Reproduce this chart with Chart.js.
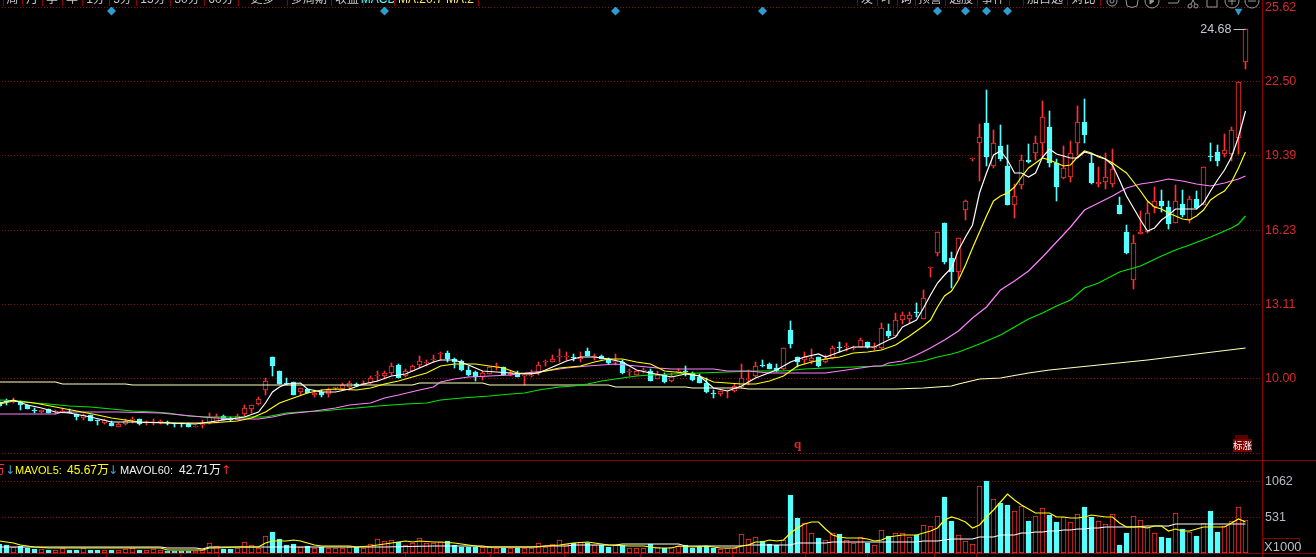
<!DOCTYPE html>
<html>
<head>
<meta charset="utf-8">
<script src="https://cdn.jsdelivr.net/npm/chart.js@4/dist/chart.umd.min.js"></script>
<style>
  html, body { margin: 0; padding: 0; background: #000; overflow: hidden; }
  #page { position: relative; width: 1316px; height: 557px; overflow: hidden; background: #000; font-family: "Liberation Sans", "Noto Sans CJK SC", sans-serif; }
  canvas { position: absolute; left: -7px; }
  .abs { position: absolute; white-space: nowrap; }
  .rule { position: absolute; background: #8b0000; }
  #toolbar { position: absolute; left: 0; top: 0; width: 1104px; height: 6px; overflow: hidden; }
  #toolbar span { position: absolute; top: -7px; font-size: 12px; line-height: 12px; color: #c8c8c8; transform: translateX(-50%); white-space: nowrap; }
  #legend span { position: absolute; top: 463px; font-size: 12px; line-height: 14px; white-space: nowrap; }
  #legend .name { font-size: 11px; }
  #legend .arrow { font-family: "DejaVu Sans"; font-size: 12px; }
</style>
</head>
<body>
<div id="page">
  <canvas id="priceChart" width="1323" height="461" style="top:0"></canvas>
  <canvas id="volumeChart" width="1323" height="92" style="top:461px"></canvas>
  <div id="toolbar"></div>
  <svg class="abs" style="left:1104px;top:0" width="158" height="10" fill="none" stroke="#9a9a9a" stroke-width="1">
    <circle cx="8" cy="1" r="5"/><circle cx="8" cy="1" r="2"/>
    <path d="M22 0 L23 6 Q28 9 33 6 L34 0"/>
    <circle cx="48" cy="1" r="7"/><path d="M46 0 L46 4 L50 1 Z" fill="#9a9a9a"/>
    <path d="M64 3 L73 3 Q75 3 75 0"/>
    <circle cx="86" cy="6" r="2"/><circle cx="92" cy="6" r="2"/><path d="M87 4 L89 0 M91 4 L89 0"/>
    <path d="M103 0 L103 7 L113 7 L113 0"/>
    <circle cx="128" cy="1" r="7"/><path d="M124 1 L132 1 M128 0 L128 5"/>
    <circle cx="148" cy="1" r="7"/><path d="M144 1 L152 1"/>
  </svg>
  <div id="legend">
    <span style="left:-7px;color:#ff3232">万</span>
    <span class="arrow" style="left:5px;color:#3aa6d8">↓</span>
    <span class="name" style="left:15px;color:#ffff0b">MAVOL5:</span>
    <span style="left:67px;color:#ffff0b">45.67万</span>
    <span class="arrow" style="left:108px;color:#3aa6d8">↓</span>
    <span class="name" style="left:120px;color:#f0f0f0">MAVOL60:</span>
    <span style="left:179px;color:#f0f0f0">42.71万</span>
    <span class="arrow" style="left:221px;color:#ff3232">↑</span>
  </div>
  <div class="rule" style="left:0;top:460px;width:1316px;height:1px"></div>
  <div class="rule" style="left:0;top:553px;width:1316px;height:1px"></div>
  <div class="rule" style="left:1262px;top:0;width:1px;height:557px"></div>
  <div class="abs" style="left:1263px;top:538px;width:35px;height:14px;border:1px solid #8b0000;color:#b8bcc4;font-size:13px;line-height:15px;text-align:center">X1000</div>
  <div class="abs" style="left:1235px;top:435px;width:13px;height:4px;background:#5a0000"></div>
  <div class="abs" style="left:1233px;top:439px;width:19px;height:13px;background:#7a0000;color:#fff;font:9.5px/13px 'Noto Sans CJK SC';text-align:center">标涨</div>
</div>
<script>
const opens = [8.99,9.02,9.00,8.99,8.85,8.64,8.58,8.67,8.55,8.57,
  8.57,8.48,8.29,8.43,8.20,8.09,8.12,7.95,8.06,8.22,
  8.26,8.10,8.10,8.12,8.15,8.09,8.09,8.06,7.95,8.01,
  8.09,8.12,8.40,8.29,8.23,8.48,8.69,8.90,9.47,10.88,
  10.28,9.80,9.82,9.42,9.52,9.26,9.41,9.31,9.56,9.55,
  9.63,9.76,9.70,9.77,10.07,10.08,10.21,10.55,10.08,10.31,
  10.55,10.63,10.77,11.02,11.05,10.80,10.72,10.34,10.25,10.03,
  10.17,10.46,10.45,10.11,10.20,10.06,10.06,10.20,10.66,10.69,
  10.88,10.88,10.87,10.79,11.14,10.87,10.91,10.81,10.65,10.65,
  10.24,10.14,10.28,10.29,9.97,10.11,9.85,10.25,10.28,10.20,
  10.03,9.79,9.34,9.34,9.46,9.44,9.61,9.93,10.06,10.50,
  10.58,10.41,10.37,12.02,10.88,10.76,10.73,10.87,10.66,10.83,
  11.29,11.30,11.26,11.31,11.50,11.28,11.25,11.98,11.78,12.44,
  12.49,12.78,12.50,14.64,15.24,16.51,15.04,14.48,17.06,19.22,
  19.91,20.74,18.93,19.77,18.93,17.30,18.14,19.18,19.49,19.91,
  20.57,19.04,18.40,18.44,19.88,20.78,19.06,18.16,18.24,18.16,
  17.29,16.15,14.11,16.08,16.16,17.19,17.46,17.19,16.54,17.31,
  16.64,17.53,17.29,19.35,19.52,19.41,19.43,20.09,23.30];
const closes = [8.82,8.99,9.03,8.85,8.71,8.61,8.65,8.54,8.61,8.60,
  8.54,8.36,8.43,8.20,8.17,8.23,7.98,8.06,8.19,8.25,
  8.06,8.13,8.13,8.17,8.09,8.06,8.06,7.95,7.98,8.03,
  8.34,8.34,8.23,8.23,8.41,8.74,8.85,9.11,9.86,10.50,
  9.75,9.75,9.28,9.56,9.37,9.38,9.27,9.48,9.59,9.68,
  9.77,9.66,9.80,9.99,10.10,10.21,10.50,10.01,10.27,10.50,
  10.70,10.66,10.80,11.05,10.79,10.67,10.34,10.11,10.03,10.20,
  10.45,10.49,10.13,10.20,10.04,10.08,10.14,10.53,10.69,10.79,
  10.91,10.91,10.84,10.90,10.93,10.90,10.81,10.62,10.73,10.20,
  10.27,10.28,10.31,9.87,10.13,9.83,10.06,10.28,10.25,9.92,
  9.79,9.41,9.31,9.44,9.49,9.65,9.99,9.96,10.50,10.48,
  10.39,10.27,11.25,11.43,10.67,10.87,10.84,10.48,10.81,11.25,
  11.26,11.33,11.29,11.59,11.29,11.31,12.09,11.77,12.43,12.65,
  12.65,12.75,13.36,14.66,16.14,14.86,14.48,15.88,17.47,19.25,
  20.14,19.31,19.88,19.22,17.30,17.65,19.17,19.10,19.88,20.98,
  19.07,18.06,18.83,19.46,20.77,20.21,18.19,18.23,18.44,18.80,
  16.92,15.24,15.67,16.15,16.93,17.44,17.26,16.50,17.44,16.86,
  17.55,17.15,18.87,19.32,19.14,19.58,20.45,22.45,24.68];
const highs = [9.04,9.10,9.14,9.02,8.87,8.74,8.66,8.70,8.65,8.72,
  8.68,8.50,8.48,8.45,8.23,8.25,8.17,8.08,8.26,8.34,
  8.28,8.19,8.26,8.23,8.17,8.12,8.12,8.08,7.99,8.23,
  8.51,8.48,8.42,8.34,8.48,8.85,8.87,9.19,10.00,10.90,
  10.30,10.00,9.84,9.58,9.54,9.47,9.49,9.56,9.63,9.77,
  9.86,9.80,9.86,10.08,10.27,10.27,10.62,10.59,10.36,10.56,
  10.93,10.76,10.97,11.11,11.15,10.83,10.74,10.48,10.27,10.31,
  10.47,10.62,10.47,10.28,10.27,10.10,10.34,10.69,10.76,10.97,
  11.22,11.08,11.01,11.11,11.28,11.01,10.97,10.84,11.01,10.76,
  10.37,10.31,10.41,10.37,10.27,10.20,10.20,10.39,10.50,10.24,
  10.15,9.99,9.49,9.46,9.50,9.75,10.58,10.34,10.67,10.76,
  10.62,10.58,11.27,12.40,10.90,11.08,11.21,10.89,10.95,11.35,
  11.50,11.46,11.36,11.69,11.53,11.46,12.30,12.26,12.74,12.77,
  12.77,13.16,13.70,14.68,16.16,16.53,15.29,15.90,17.49,19.27,
  20.70,22.13,20.45,20.64,19.81,18.16,19.39,19.86,20.17,21.65,
  21.25,19.21,19.77,19.97,21.46,21.75,19.44,18.90,19.46,19.63,
  17.61,16.44,16.01,17.01,17.41,18.03,17.92,17.43,18.13,17.92,
  17.64,17.88,18.89,19.88,19.79,20.28,20.57,22.47,24.70];
const lows = [8.79,8.86,8.96,8.65,8.69,8.53,8.54,8.52,8.48,8.54,
  8.52,8.23,8.23,8.18,8.02,8.07,7.96,7.93,8.01,8.12,
  8.02,8.02,8.01,8.06,8.03,7.95,7.95,7.93,7.93,7.91,
  8.06,8.09,8.21,8.20,8.21,8.40,8.54,8.86,9.26,10.10,
  9.73,9.70,9.26,9.30,9.35,9.19,9.21,9.19,9.47,9.49,
  9.49,9.64,9.68,9.75,9.89,9.94,10.13,9.99,10.03,10.27,
  10.41,10.50,10.69,10.76,10.65,10.41,10.27,10.08,9.89,9.92,
  10.15,10.34,10.11,10.06,10.02,9.70,10.03,10.13,10.52,10.67,
  10.69,10.76,10.73,10.69,10.91,10.76,10.79,10.59,10.55,10.17,
  10.08,10.11,10.20,9.85,9.95,9.79,9.83,10.20,10.06,9.87,
  9.77,9.35,9.17,9.24,9.17,9.42,9.56,9.70,10.03,10.46,
  10.36,10.25,10.35,11.26,10.45,10.58,10.58,10.46,10.62,10.81,
  11.11,11.14,11.18,11.29,11.27,11.18,11.21,11.67,11.76,12.27,
  12.30,12.55,12.48,14.23,15.15,14.80,13.80,14.17,16.65,19.15,
  18.31,18.93,18.83,19.15,17.28,16.75,17.96,19.04,19.18,19.25,
  18.89,17.47,18.38,18.27,19.39,19.91,18.17,18.02,17.96,18.06,
  16.90,15.22,13.73,16.06,16.09,16.93,16.98,16.27,16.51,16.79,
  16.51,17.13,17.27,19.15,18.94,19.29,19.15,19.43,22.99];
const volumes = [133,113,93,103,74,59,54,44,44,69,
  49,49,69,44,49,44,44,44,54,69,
  49,44,54,49,34,34,34,34,34,44,
  143,98,59,59,74,157,113,79,246,310,
  207,118,133,93,103,69,93,79,79,79,
  93,84,79,128,202,172,187,167,113,148,
  216,143,143,157,172,118,93,93,93,84,
  84,79,79,79,79,79,79,143,93,128,
  187,133,143,157,152,118,113,88,113,118,
  69,74,74,133,84,79,84,103,113,79,
  93,103,79,59,69,69,275,202,231,177,
  133,123,192,856,516,438,290,221,187,290,
  280,187,143,231,152,113,339,251,290,290,
  231,261,408,393,541,826,472,261,172,128,
  983,1062,792,733,708,615,688,472,541,659,
  561,457,526,452,570,679,531,467,423,570,
  118,295,541,482,388,290,236,221,585,349,
  305,251,438,620,310,393,477,674,482];

// moving averages at the listed days
const ma5Days = [0,2,4,6,8,10,13,16,19,24,28,30,32,35,37,38,39,40,41,43,44,46,48,50,52,54,56,58,60,62,
  63,65,67,69,71,73,75,77,79,81,83,85,87,89,91,93,96,98,100,102,104,106,108,111,113,115,117,118,120,122,125,127,128,129,131,
  132,133,134,135,136,137,138,139,140,141,142,143,144,145,146,147,148,149,150,151,152,153,154,155,156,157,158,159,160,161,162,163,164,165,166,167,168,170,171,172,173,174,175,176,177,178];
const ma5 = [8.93,9.06,8.86,8.72,8.58,8.51,8.34,8.16,8.13,8.09,8.06,8.13,8.23,8.37,8.58,8.93,9.42,9.63,9.75,9.77,9.52,9.40,9.42,9.52,9.73,9.85,10.08,10.15,10.41,10.65,
  10.76,10.76,10.55,10.27,10.24,10.20,10.17,10.22,10.45,10.73,10.87,10.87,10.80,10.69,10.34,10.20,10.03,10.17,10.06,9.56,9.45,9.66,9.99,10.34,10.69,10.87,11.00,10.87,11.11,11.29,11.29,11.60,11.74,12.13,12.44,
  12.93,13.50,13.99,14.34,14.62,15.39,15.95,16.44,17.78,18.62,19.39,19.56,19.18,18.65,18.62,18.48,18.62,19.30,19.63,19.44,19.35,19.27,19.25,19.53,19.44,19.35,19.21,18.97,18.34,17.64,17.15,16.66,16.20,16.30,16.66,16.86,17.10,17.10,17.10,17.38,17.85,18.34,18.76,19.32,20.16,21.22];
const ma10Days = [0,2,5,8,11,14,16,18,20,25,30,32,34,36,38,40,42,44,46,48,51,53,55,57,59,61,
  63,65,68,70,72,74,76,78,80,83,85,87,89,91,93,95,98,100,102,104,106,108,110,112,114,116,118,120,122,124,126,128,130,132,
  133,134,135,136,137,138,139,140,141,142,143,144,145,146,147,148,149,150,151,152,153,154,155,156,157,158,159,160,161,162,163,164,165,166,167,168,169,170,171,172,173,174,175,176,177,178];
const ma10 = [8.90,9.04,8.96,8.79,8.62,8.44,8.33,8.23,8.13,8.09,8.09,8.13,8.19,8.30,8.58,8.93,9.14,9.35,9.47,9.54,9.49,9.56,9.75,9.89,10.03,10.20,
  10.50,10.58,10.58,10.50,10.41,10.22,10.17,10.27,10.41,10.50,10.69,10.80,10.79,10.66,10.58,10.29,10.20,10.06,9.83,9.78,9.73,9.73,9.87,10.06,10.48,10.65,10.79,10.90,11.04,11.07,11.18,11.39,11.78,12.19,
  12.44,13.00,13.43,13.64,14.13,14.76,15.46,16.16,16.80,17.43,17.67,17.78,18.06,18.48,18.83,19.07,19.24,19.18,19.04,18.93,18.97,19.30,19.55,19.49,19.32,19.21,19.04,18.83,18.62,18.27,17.85,17.43,17.19,17.10,16.96,16.80,16.68,16.66,16.82,17.08,17.50,17.71,17.85,18.27,18.83,19.53];
const ma20Days = [0,8,9,17,23,26,29,31,34,37,39,41,45,48,50,53,55,57,60,62,
  63,65,67,70,73,75,78,81,84,86,88,91,94,96,102,104,107,110,114,118,120,123,125,126,127,129,131,133,135,137,139,141,143,145,147,149,151,153,155,157,159,161,163,165,167,169,171,173,175,177,178];
const ma20 = [8.48,8.48,8.55,8.55,8.54,8.44,8.34,8.30,8.26,8.26,8.37,8.48,8.62,8.72,8.85,8.96,9.14,9.27,9.49,9.63,
  9.82,9.97,10.03,10.07,10.13,10.20,10.29,10.41,10.48,10.55,10.58,10.50,10.43,10.39,10.38,10.28,10.28,10.22,10.20,10.22,10.31,10.41,10.48,10.50,10.62,10.73,10.96,11.25,11.60,11.98,12.51,13.00,13.71,14.10,14.52,15.11,15.71,16.37,17.05,17.38,17.66,17.99,18.16,18.27,18.38,18.30,18.17,18.10,18.20,18.37,18.51];
const ma60Days = [0,3,5,7,10,13,16,19,22,24,27,30,34,38,41,43,46,49,51,54,58,61,
  63,66,68,70,73,75,77,80,82,84,86,88,91,93,96,100,104,108,112,115,118,122,126,128,130,132,134,136,137,140,143,145,
  147,149,151,153,155,157,160,163,166,168,170,173,176,177,178];
const ma60 = [9.07,9.03,8.96,8.90,8.83,8.76,8.68,8.62,8.55,8.51,8.40,8.36,8.34,8.37,8.51,8.55,8.62,8.69,8.75,8.81,8.88,8.93,
  9.05,9.14,9.19,9.24,9.31,9.38,9.48,9.61,9.66,9.76,9.89,9.97,10.08,10.14,10.18,10.21,10.24,10.27,10.29,10.36,10.41,10.45,10.48,10.55,10.63,10.73,10.90,10.99,11.11,11.43,11.81,12.15,
  12.47,12.72,13.03,13.29,13.78,13.99,14.44,14.72,15.14,15.39,15.60,15.92,16.30,16.49,16.80];
const ma250Days = [0,8,9,18,19,27,28,59,60,69,70,74,75,87,88,98,99,106,107,124,128,132,136,137,140,143,147,150,157,164,171,178];
const ma250 = [9.82,9.82,9.76,9.76,9.72,9.72,9.70,9.70,9.78,9.78,9.72,9.72,9.68,9.68,9.63,9.63,9.59,9.59,9.52,9.52,9.55,9.59,9.66,9.76,9.96,10.00,10.21,10.34,10.55,10.76,11.01,11.28];

const mavol5Days = [0,2,3,5,7,8,14,23,24,27,29,30,31,34,37,38,39,41,42,43,45,46,50,51,53,55,57,58,59,60,62,
  63,65,67,68,69,76,78,80,82,84,85,87,90,92,94,96,97,99,101,103,105,106,107,108,109,110,111,112,113,114,115,116,117,118,119,120,121,122,123,124,125,126,
  127,128,129,130,131,132,133,134,135,136,137,138,139,140,141,142,143,144,145,146,147,148,149,150,151,152,153,154,155,156,157,158,159,160,161,162,163,164,165,166,167,168,169,170,171,172,173,174,175,176,177,178];
const mavol5 = [172,152,118,89,79,69,79,79,44,39,44,74,74,93,93,143,177,182,197,177,118,98,98,89,103,128,162,172,157,177,157,
  157,143,123,103,89,89,103,123,143,157,143,123,103,103,79,79,98,84,98,79,69,103,123,167,167,197,177,192,300,364,428,452,457,349,266,241,226,216,226,202,182,192,
  236,251,270,266,270,300,325,374,487,526,506,457,364,413,536,634,757,865,782,703,644,595,595,585,536,536,521,511,536,556,541,536,536,438,379,388,388,369,398,398,325,349,329,329,349,388,388,379,388,438,497,457];
const mavol60Days = [0,14,15,23,24,28,29,30,55,62,63,69,70,77,78,81,82,88,89,97,98,106,107,113,114,118,119,126,128,131,132,134,136,139,140,142,143,145,146,147,148,149,150,151,152,153,154,155,156,157,158,160,161,162,164,167,168,178];
const mavol60 = [93,93,84,84,69,69,64,84,93,103,98,98,88,88,98,98,118,118,128,128,108,108,123,123,143,143,157,157,167,167,182,182,207,207,236,236,266,266,290,290,310,310,325,325,339,339,354,354,364,364,379,379,388,388,403,403,428,428];

const priceTicks = [25.62, 22.50, 19.39, 16.23, 13.11, 10.00, 6.84];
const volumeTicks = [1062, 531];
const markerDays = [16, 55, 88, 109, 134, 138, 141, 144];
const markerPrice = 25.46;
const flagDay = 177;
const lastLabel = '24.68';
const lowMark = 'q';
const lowMarkDay = 114;
const toolbarLeft = ['周','月','季','年','1分','5分','15分','30分','60分','更多','多周期','收益','MACD','MA:20.7 MA:2'];
const toolbarRight = ['发','叶','询','预警','选股','事件','','加自选','对比'];
const toolbarColors = { MACD: '#54ffff', 'MA:20.7 MA:2': '#ffe860' };

const RED = '#ff3232', CYAN = '#54ffff', GRID = '#8a0c0c';
const days = opens.map((_, i) => i);
const isUp = days.map(i => closes[i] >= opens[i]);
const pairs = (xs, ys) => xs.map((x, i) => ({ x, y: ys[i] }));

// toolbar labels are cut off by the window top, same as the screenshot
const leftEdges = [3,22,42,62,82,109,136,170,204,238,287,331,363,394,478];
const rightEdges = [857,877,897,915,945,977,1009,1023,1067,1100];
const toolbar = document.getElementById('toolbar');
const page = document.getElementById('page');
function fillToolbar(edges, labels) {
  edges.forEach((x, i) => {
    const sep = document.createElement('div');
    sep.className = 'rule';
    sep.style.cssText = `left:${x}px;top:0;width:1px;height:6px`;
    toolbar.appendChild(sep);
    if (labels[i]) {
      const t = document.createElement('span');
      t.textContent = labels[i];
      t.style.left = (x + edges[i + 1]) / 2 + 'px';
      if (toolbarColors[labels[i]]) t.style.color = toolbarColors[labels[i]];
      toolbar.appendChild(t);
    }
  });
}
fillToolbar(leftEdges, toolbarLeft);
fillToolbar(rightEdges, toolbarRight);

[21,106,180,218,281,405,490,564,640,732,805,867,934,976].forEach(x => {
  const d = document.createElement('div');
  d.className = 'rule';
  d.style.cssText = `left:${x}px;top:554px;width:1px;height:3px`;
  page.appendChild(d);
});

// whole pixel edges keep the 1px hollow bodies sharp
function snapY(scale) {
  if (scale.snapped) return;
  scale.snapped = true;
  const raw = scale.getPixelForValue.bind(scale);
  scale.getPixelForValue = (v, i) => Math.round(raw(v, i));
}

// canvas starts 7px left of the page so the first candle stays on the scale
const xAxis = { type: 'linear', display: false, offset: false, min: -6.5 / 7, max: -6.5 / 7 + 1269 / 7, grid: { display: false } };

function yAxis(min, max, ticks, color, format) {
  return {
    position: 'right', min, max,
    grid: { color: GRID, lineWidth: 1, drawTicks: false },
    border: { display: false, dash: [1, 2] },
    ticks: { color, font: { family: 'Liberation Sans', size: 12.5 }, padding: 3, labelOffset: 1, autoSkip: false, callback: format },
    afterBuildTicks: s => { s.ticks = ticks.map(value => ({ value })); },
    afterFit: s => { s.width = 54; s.paddingTop = 0; s.paddingBottom = 0; },
    afterUpdate: snapY
  };
}

const lineSet = (label, xs, ys, color, order) => ({
  type: 'line', label, data: pairs(xs, ys), borderColor: color, borderWidth: 1.2,
  pointRadius: 0, tension: 0, order
});

const pricePaint = {
  id: 'pricePaint',
  afterDatasetsDraw(chart) {
    const { ctx, scales: { x, y } } = chart;
    const lastX = x.getPixelForValue(days[days.length - 1]);
    const topY = y.getPixelForValue(closes[closes.length - 1]);
    ctx.save();
    ctx.strokeStyle = '#c0c0c0';
    ctx.beginPath();
    ctx.moveTo(lastX - 12, topY + 0.5);
    ctx.lineTo(lastX, topY + 0.5);
    ctx.stroke();
    ctx.fillStyle = '#c0c8d4';
    ctx.font = '12.5px "Liberation Sans"';
    ctx.textAlign = 'right';
    ctx.textBaseline = 'middle';
    ctx.fillText(lastLabel, lastX - 14, topY + 1);
    ctx.fillStyle = '#e02828';
    ctx.font = 'bold 13px "Liberation Serif"';
    ctx.textAlign = 'center';
    ctx.fillText(lowMark, x.getPixelForValue(lowMarkDay), 445);
    ctx.restore();
  }
};

new Chart(document.getElementById('priceChart'), {
  type: 'bar',
  data: {
    datasets: [
      { label: 'wick', grouped: false, order: 20, barThickness: 1, borderWidth: 0,
        data: days.map(i => ({ x: i, y: [lows[i], highs[i]] })),
        backgroundColor: days.map(i => isUp[i] ? RED : CYAN) },
      { label: 'body', grouped: false, order: 19, barThickness: 5, borderWidth: 1, borderSkipped: false, minBarLength: 1,
        data: days.map(i => ({ x: i, y: [opens[i], closes[i]] })),
        backgroundColor: days.map(i => isUp[i] ? '#000000' : CYAN),
        borderColor: days.map(i => isUp[i] ? RED : CYAN) },
      lineSet('MA250', ma250Days, ma250, '#ffffb8', 6),
      lineSet('MA60', ma60Days, ma60, '#00e600', 5),
      lineSet('MA20', ma20Days, ma20, '#ff80ff', 4),
      lineSet('MA10', ma10Days, ma10, '#ffff0b', 3),
      lineSet('MA5', ma5Days, ma5, '#ffffff', 2),
      { type: 'scatter', label: 'events', order: 1, pointStyle: 'rectRot', pointRadius: 4.5, pointBorderWidth: 0,
        backgroundColor: '#2d9cd0', data: markerDays.map(x => ({ x, y: markerPrice })) },
      { type: 'scatter', label: 'flag', order: 1, pointStyle: 'triangle', pointRotation: 180, pointRadius: 4.5, pointBorderWidth: 0,
        backgroundColor: '#2d9cd0', data: [{ x: flagDay, y: markerPrice }] }
    ]
  },
  options: {
    responsive: false, animation: false, devicePixelRatio: 1,
    layout: { autoPadding: false, padding: { top: 7, left: 0, right: 0, bottom: 0 } },
    plugins: { legend: { display: false }, tooltip: { enabled: false } },
    scales: {
      x: xAxis,
      y: yAxis(6.50, 25.62, priceTicks, '#d62a2a', v => v < 7 ? '' : v.toFixed(2))
    }
  },
  plugins: [pricePaint]
});

new Chart(document.getElementById('volumeChart'), {
  type: 'bar',
  data: {
    datasets: [
      { label: 'VOL', grouped: false, order: 10, barThickness: 5, borderWidth: 1, borderSkipped: false,
        data: days.map(i => ({ x: i, y: volumes[i] })),
        backgroundColor: days.map(i => isUp[i] ? '#000000' : CYAN),
        borderColor: days.map(i => isUp[i] ? RED : CYAN) },
      lineSet('MAVOL60', mavol60Days, mavol60, '#ffffff', 2),
      lineSet('MAVOL5', mavol5Days, mavol5, '#ffff0b', 1)
    ]
  },
  options: {
    responsive: false, animation: false, devicePixelRatio: 1,
    layout: { autoPadding: false, padding: 0 },
    plugins: { legend: { display: false }, tooltip: { enabled: false } },
    scales: {
      x: xAxis,
      y: yAxis(0, 1357, volumeTicks, '#b8bcc4', v => String(v))
    }
  }
});
</script>
</body>
</html>
